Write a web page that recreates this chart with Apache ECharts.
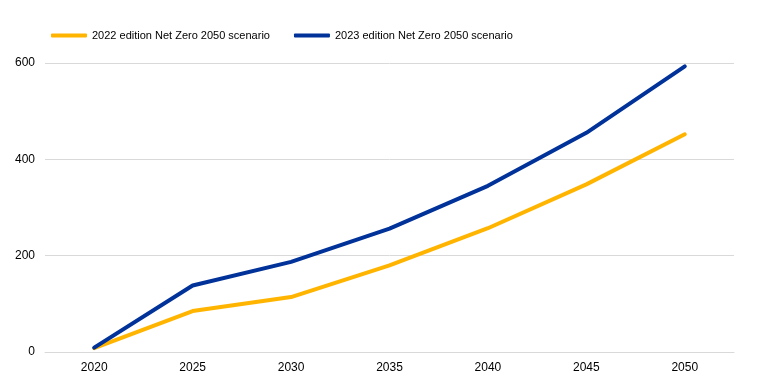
<!DOCTYPE html>
<html><head><meta charset="utf-8">
<script src="https://cdn.jsdelivr.net/npm/echarts@6/dist/echarts.min.js"></script>
<style>html,body{margin:0;padding:0;background:#fff}#c{width:758px;height:389px}</style>
</head><body><div id="c"></div>
<script>
const categories = ['2020','2025','2030','2035','2040','2045','2050'];
const series2022 = [8, 85, 114, 180, 257, 348, 452];
const series2023 = [9, 138, 187, 256, 345, 455, 593];
const seriesNames = ['2022 edition Net Zero 2050 scenario', '2023 edition Net Zero 2050 scenario'];
const yTicks = [0, 200, 400, 600];

const chart = echarts.init(document.getElementById('c'), null, {renderer:'canvas'});
const font = 'Liberation Sans, Arial, sans-serif';
chart.setOption({
  animation: false,
  backgroundColor: '#fff',
  legend: {
    top: 25, left: 46, itemGap: 24, itemWidth: 36, itemHeight: 4,
    textStyle: {fontFamily: font, fontSize: 11, color: '#000'},
    data: seriesNames.map(n => ({name: n, icon: 'roundRect'}))
  },
  grid: {left: 45, right: 24, top: 63, bottom: 37},
  xAxis: {
    type: 'category', data: categories, boundaryGap: true,
    axisLine: {lineStyle: {color: '#d9d9d9', width: 1}},
    axisTick: {show: false},
    axisLabel: {fontFamily: font, fontSize: 12, color: '#000', margin: 10}
  },
  yAxis: {
    type: 'value', min: yTicks[0], max: yTicks[yTicks.length-1], interval: 200,
    axisLine: {show: false}, axisTick: {show: false},
    axisLabel: {fontFamily: font, fontSize: 12, color: '#000', margin: 10},
    splitLine: {lineStyle: {color: '#d9d9d9', width: 1}}
  },
  series: [
    {name: seriesNames[0], type: 'line', data: series2022, symbol: 'none',
     lineStyle: {color: '#FFB400', width: 4, cap: 'round', join: 'round'}, itemStyle: {color: '#FFB400'}},
    {name: seriesNames[1], type: 'line', data: series2023, symbol: 'none',
     lineStyle: {color: '#003299', width: 4, cap: 'round', join: 'round'}, itemStyle: {color: '#003299'}}
  ]
});
</script></body></html>
